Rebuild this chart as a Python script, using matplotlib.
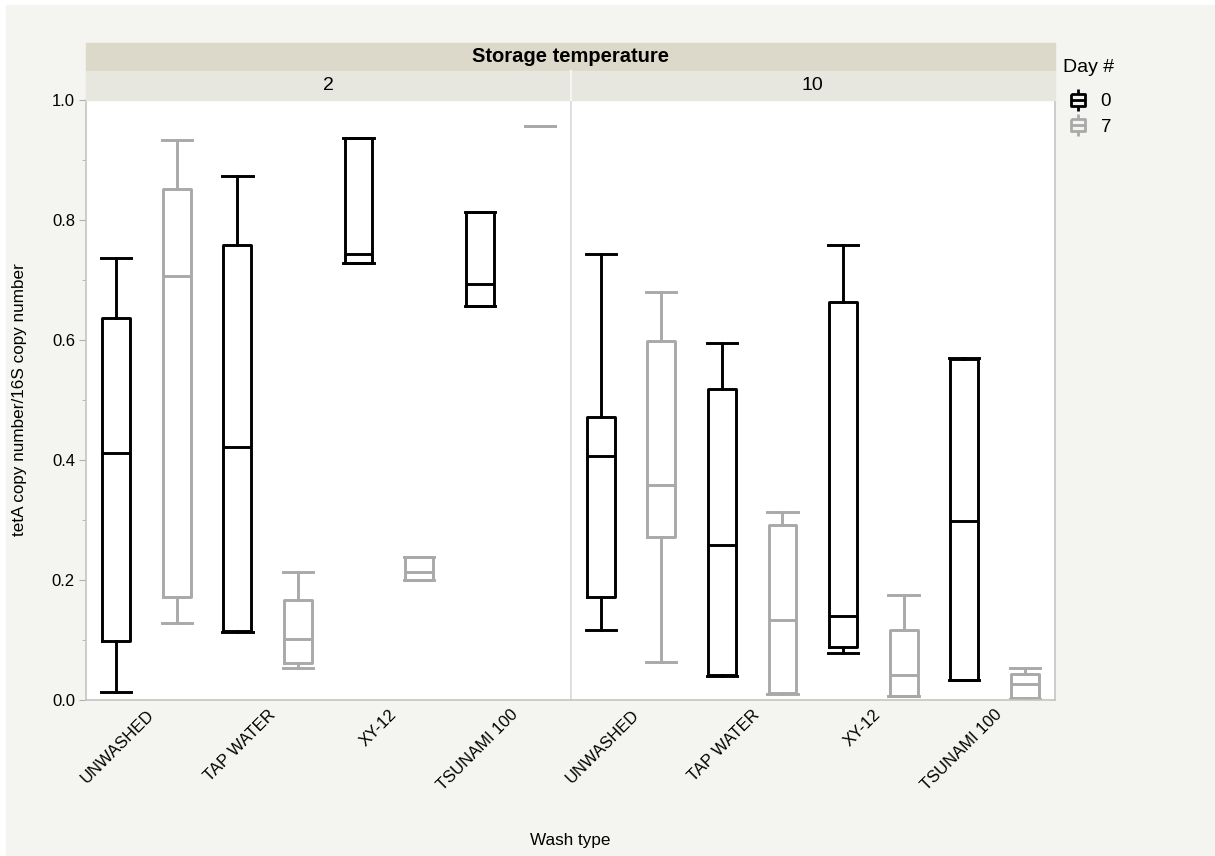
import matplotlib.pyplot as plt
from matplotlib.patches import Rectangle
from matplotlib.lines import Line2D
from matplotlib.path import Path

plt.rcParams['font.family'] = ['Liberation Sans', 'DejaVu Sans']

wash_types = ["UNWASHED", "TAP WATER", "XY-12", "TSUNAMI 100"]
temps = ["2", "10"]
days = ["0", "7"]

# storage temperature 2, day 0
lo_2_0 = [0.013, 0.113, 0.728, 0.657]
q1_2_0 = [0.099, 0.115, 0.728, 0.657]
med_2_0 = [0.412, 0.422, 0.744, 0.693]
q3_2_0 = [0.637, 0.759, 0.937, 0.813]
hi_2_0 = [0.737, 0.873, 0.937, 0.813]

# storage temperature 2, day 7
lo_2_7 = [0.128, 0.053, 0.200, 0.957]
q1_2_7 = [0.172, 0.061, 0.200, 0.957]
med_2_7 = [0.706, 0.101, 0.214, 0.957]
q3_2_7 = [0.852, 0.167, 0.239, 0.957]
hi_2_7 = [0.933, 0.214, 0.239, 0.957]

# storage temperature 10, day 0
lo_10_0 = [0.117, 0.040, 0.079, 0.034]
q1_10_0 = [0.172, 0.042, 0.089, 0.034]
med_10_0 = [0.407, 0.258, 0.140, 0.299]
q3_10_0 = [0.471, 0.518, 0.664, 0.568]
hi_10_0 = [0.743, 0.595, 0.759, 0.570]

# storage temperature 10, day 7
lo_10_7 = [0.064, 0.010, 0.006, 0.001]
q1_10_7 = [0.271, 0.011, 0.006, 0.003]
med_10_7 = [0.359, 0.133, 0.042, 0.027]
q3_10_7 = [0.598, 0.291, 0.117, 0.043]
hi_10_7 = [0.680, 0.314, 0.175, 0.053]

panel_data = {
    ("2", "0"): (lo_2_0, q1_2_0, med_2_0, q3_2_0, hi_2_0),
    ("2", "7"): (lo_2_7, q1_2_7, med_2_7, q3_2_7, hi_2_7),
    ("10", "0"): (lo_10_0, q1_10_0, med_10_0, q3_10_0, hi_10_0),
    ("10", "7"): (lo_10_7, q1_10_7, med_10_7, q3_10_7, hi_10_7),
}

day_colors = {"0": "black", "7": "#a9a9a9"}
day_offsets = {"0": -0.25, "7": 0.25}
bg = "#f4f5f0"
W, H = 1215, 856

fig = plt.figure(figsize=(W / 100, H / 100), dpi=100, facecolor="white")
fig.patches.append(Rectangle((6 / W, 1 / H), 1 - 6 / W, 850 / H,
                             transform=fig.transFigure, color=bg, zorder=-10))

left, right, bottom, top = 86 / W, 1055 / W, (H - 700) / H, (H - 100) / H
pw = (right - left) / 2
axes = []
for k, t in enumerate(temps):
    ax = fig.add_axes([left + k * pw, bottom, pw, top - bottom])
    axes.append(ax)
    for d in days:
        lo, q1, med, q3, hi = panel_data[(t, d)]
        stats = []
        for i in range(len(wash_types)):
            stats.append(dict(whislo=lo[i], q1=q1[i], med=med[i], q3=q3[i],
                              whishi=hi[i], fliers=[]))
        pos = [i + day_offsets[d] for i in range(len(wash_types))]
        c = day_colors[d]
        lw = 2.1
        ax.bxp(stats, positions=pos, widths=0.23, capwidths=0.25,
               showfliers=False, manage_ticks=False,
               boxprops=dict(color=c, lw=lw),
               medianprops=dict(color=c, lw=lw),
               whiskerprops=dict(color=c, lw=lw),
               capprops=dict(color=c, lw=lw))
    ax.set_xlim(-0.5, len(wash_types) - 0.5)
    ax.set_ylim(0, 1.0)
    ax.set_xticks(range(len(wash_types)))
    ax.set_xticklabels(wash_types, rotation=45, ha="right",
                       rotation_mode="anchor", fontsize=12)
    ax.tick_params(axis="x", length=0, pad=5)
    for s in ax.spines.values():
        s.set_color("#c4c4c4")
        s.set_linewidth(1.2)
    ax.spines["top"].set_visible(False)
    if k == 0:
        ax.set_yticks([0.0, 0.2, 0.4, 0.6, 0.8, 1.0])
        ax.set_yticklabels(["0.0", "0.2", "0.4", "0.6", "0.8", "1.0"])
        ax.set_yticks([0.1, 0.3, 0.5, 0.7, 0.9], minor=True)
        ax.tick_params(axis="y", which="major", length=5, color="#b0b0b0",
                       labelsize=12, pad=3)
        ax.tick_params(axis="y", which="minor", length=3, color="#b0b0b0")
        ax.spines["right"].set_color("#dcdcdc")
    else:
        ax.set_yticks([])
        ax.spines["left"].set_color("#dcdcdc")

axes[0].set_ylabel("tetA copy number/16S copy number", fontsize=12.3, labelpad=18)

# header strips
fig.patches.append(Rectangle((left, (H - 71) / H), right - left, 28 / H,
                             transform=fig.transFigure, color="#dcd9ca", zorder=1))
for k, t in enumerate(temps):
    fig.patches.append(Rectangle((left + k * pw, top), pw, 29 / H,
                                 transform=fig.transFigure, color="#e8e7df", zorder=1))
    fig.text(left + (k + 0.5) * pw, (H - 85) / H, t, ha="center", va="center",
             fontsize=14)
fig.add_artist(Line2D([left + pw, left + pw], [top, (H - 71) / H],
                      transform=fig.transFigure, color="#f6f6f2", lw=1.5))
fig.text((left + right) / 2, (H - 57) / H, "Storage temperature", ha="center",
         va="center", fontsize=14.5, fontweight="bold")

fig.text((left + right) / 2, (H - 840) / H, "Wash type", ha="center",
         va="center", fontsize=12.3)

# legend glyph: box with median and whiskers
verts = [(0, 1), (0, 0.5),
         (-0.62, 0.5), (0.62, 0.5), (0.62, -0.5), (-0.62, -0.5), (-0.62, 0.5),
         (-0.62, 0), (0.62, 0),
         (0, -0.5), (0, -1)]
codes = [Path.MOVETO, Path.LINETO,
         Path.MOVETO, Path.LINETO, Path.LINETO, Path.LINETO, Path.LINETO,
         Path.MOVETO, Path.LINETO,
         Path.MOVETO, Path.LINETO]
glyph = Path(verts, codes)
handles = [Line2D([], [], ls="none", marker=glyph, ms=16.5, mfc="none",
                  mec=day_colors[d], mew=2.0) for d in days]
fig.text(1063 / W, (H - 67) / H, "Day #", ha="left", va="center", fontsize=14)
leg = fig.legend(handles, days, loc="upper left",
                 bbox_to_anchor=(1066 / W, (H - 93) / H), frameon=False,
                 fontsize=13.5, handlelength=1.3, handletextpad=0.55,
                 labelspacing=0.45, borderaxespad=0, borderpad=0)

fig.savefig("out.png", dpi=100, facecolor=fig.get_facecolor())
